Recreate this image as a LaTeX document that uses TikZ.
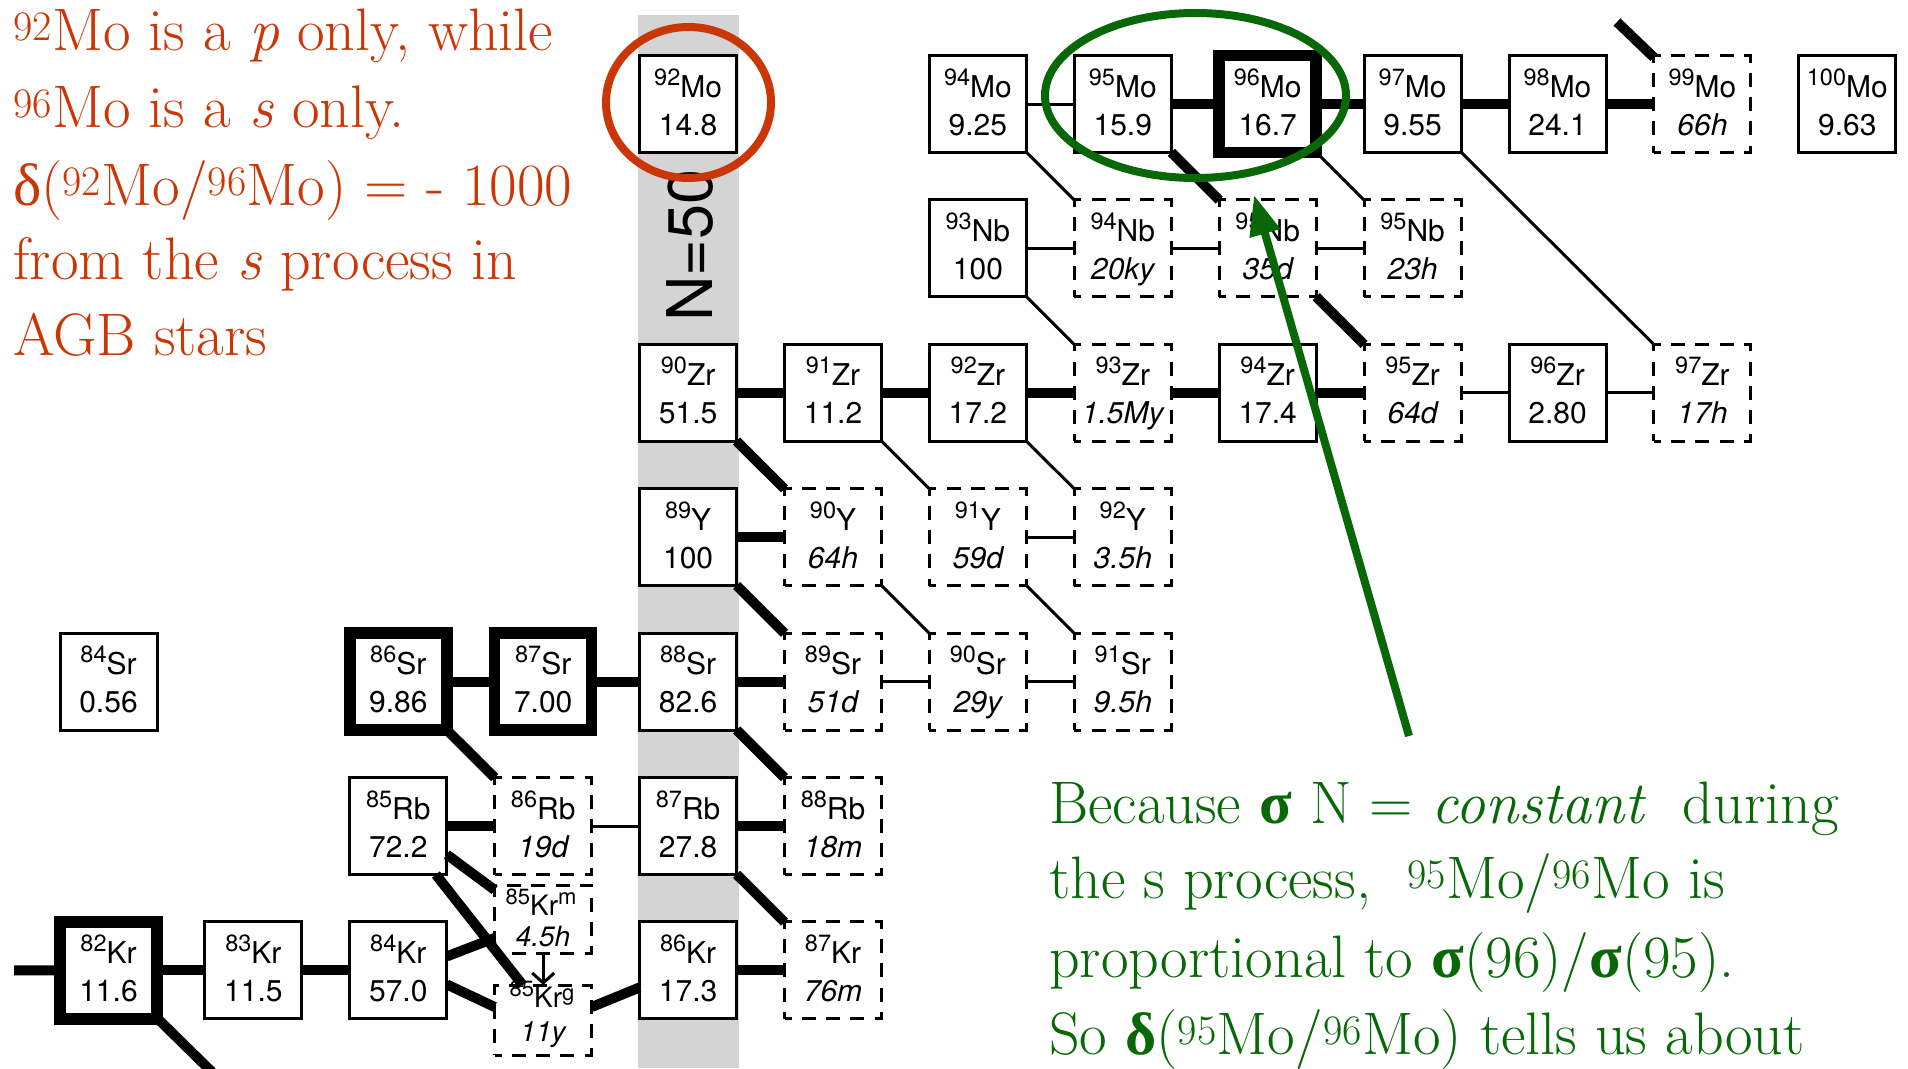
\documentclass[tikz,border=0pt]{standalone}
\usepackage{fontspec}
\usetikzlibrary{calc,arrows.meta}
\newfontfamily\helv{TeX Gyre Heros}
\newfontfamily\grk{Liberation Serif}
\definecolor{slidered}{RGB}{203,54,6}
\definecolor{slidegreen}{RGB}{8,104,8}
\definecolor{bandgray}{RGB}{212,212,212}

% mass number set as a raised superscript in the chart boxes
\newcommand\isomass[1]{\raisebox{12pt}{\fontsize{23.5}{24}\selectfont #1}}
\newcommand\smallmass[1]{\raisebox{11pt}{\fontsize{22}{22}\selectfont #1}}

\tikzset{
  nucbox/.style={draw, fill=white, line width=3pt, minimum width=97pt,
    minimum height=97pt, inner sep=0pt, outer sep=0pt},
  sonly/.style={nucbox, line width=11.5pt},
  unst/.style={nucbox, dash pattern=on 14pt off 10.25pt, dash phase=7pt},
  chartfont/.style={font=\helv\fontsize{30}{30}\selectfont},
  toptext/.style={inner sep=0pt, anchor=base, chartfont},
  valtext/.style={inner sep=0pt, anchor=base, chartfont},
  smalltext/.style={inner sep=0pt, anchor=base, font=\helv\fontsize{28}{28}\selectfont},
  heavy/.style={line width=10pt},
  light/.style={line width=3pt},
  redline/.style={anchor=base west, inner sep=0pt, text=slidered,
    font=\fontsize{60}{77}\selectfont},
  greenline/.style={anchor=base west, inner sep=0pt, text=slidegreen,
    font=\fontsize{60}{77}\selectfont},
}

% one chart cell: name, style, column, row, mass, symbol, value
\newcommand\nuc[7]{%
  \node[#2] (#1) at ({108.5+144.9*#3},{104+144.4*#4}) {};
  \node[toptext] (#1sym) at ($(#1.center)+(0,-7)$) {\isomass{#5}#6};
  \node[valtext] (#1val) at ($(#1.center)+(0,31)$) {#7};
}

\begin{document}
\begin{tikzpicture}[x=1pt, y=-1pt]
\useasboundingbox (0,0) rectangle (1908,1068);

% N = 50 column
\fill[bandgray] (638,15) rectangle (739,1068);

% ---- chart cells ----
% Mo
\nuc{Mo92}{nucbox}{4}{0}{92}{Mo}{14.8}
\nuc{Mo94}{nucbox}{6}{0}{94}{Mo}{9.25}
\nuc{Mo95}{nucbox}{7}{0}{95}{Mo}{15.9}
\nuc{Mo96}{sonly}{8}{0}{96}{Mo}{16.7}
\nuc{Mo97}{nucbox}{9}{0}{97}{Mo}{9.55}
\nuc{Mo98}{nucbox}{10}{0}{98}{Mo}{24.1}
\nuc{Mo99}{unst}{11}{0}{99}{Mo}{\itshape 66h}
\nuc{Mo100}{nucbox}{12}{0}{100}{Mo}{9.63}
% Nb
\nuc{Nb93}{nucbox}{6}{1}{93}{Nb}{100}
\nuc{Nb94}{unst}{7}{1}{94}{Nb}{\itshape 20ky}
\nuc{Nb95}{unst}{8}{1}{95}{Nb}{\itshape 35d}
\nuc{Nb96}{unst}{9}{1}{95}{Nb}{\itshape 23h}
% Zr
\nuc{Zr90}{nucbox}{4}{2}{90}{Zr}{51.5}
\nuc{Zr91}{nucbox}{5}{2}{91}{Zr}{11.2}
\nuc{Zr92}{nucbox}{6}{2}{92}{Zr}{17.2}
\nuc{Zr93}{unst}{7}{2}{93}{Zr}{\itshape 1.5My}
\nuc{Zr94}{nucbox}{8}{2}{94}{Zr}{17.4}
\nuc{Zr95}{unst}{9}{2}{95}{Zr}{\itshape 64d}
\nuc{Zr96}{nucbox}{10}{2}{96}{Zr}{2.80}
\nuc{Zr97}{unst}{11}{2}{97}{Zr}{\itshape 17h}
% Y
\nuc{Y89}{nucbox}{4}{3}{89}{Y}{100}
\nuc{Y90}{unst}{5}{3}{90}{Y}{\itshape 64h}
\nuc{Y91}{unst}{6}{3}{91}{Y}{\itshape 59d}
\nuc{Y92}{unst}{7}{3}{92}{Y}{\itshape 3.5h}
% Sr
\nuc{Sr84}{nucbox}{0}{4}{84}{Sr}{0.56}
\nuc{Sr86}{sonly}{2}{4}{86}{Sr}{9.86}
\nuc{Sr87}{sonly}{3}{4}{87}{Sr}{7.00}
\nuc{Sr88}{nucbox}{4}{4}{88}{Sr}{82.6}
\nuc{Sr89}{unst}{5}{4}{89}{Sr}{\itshape 51d}
\nuc{Sr90}{unst}{6}{4}{90}{Sr}{\itshape 29y}
\nuc{Sr91}{unst}{7}{4}{91}{Sr}{\itshape 9.5h}
% Rb
\nuc{Rb85}{nucbox}{2}{5}{85}{Rb}{72.2}
\nuc{Rb86}{unst}{3}{5}{86}{Rb}{\itshape 19d}
\nuc{Rb87}{nucbox}{4}{5}{87}{Rb}{27.8}
\nuc{Rb88}{unst}{5}{5}{88}{Rb}{\itshape 18m}
% Kr
\nuc{Kr82}{sonly}{0}{6}{82}{Kr}{11.6}
\nuc{Kr83}{nucbox}{1}{6}{83}{Kr}{11.5}
\nuc{Kr84}{nucbox}{2}{6}{84}{Kr}{57.0}
\nuc{Kr86}{nucbox}{4}{6}{86}{Kr}{17.3}
\nuc{Kr87}{unst}{5}{6}{87}{Kr}{\itshape 76m}
% 85Kr isomer and ground state share one cell
\node[unst, minimum height=68pt] (Krm) at (543.2,919) {};
\node[unst, minimum height=70pt] (Krg) at (543.2,1020) {};
\node[smalltext] (Krmsym) at (541,915) {\smallmass{85}Kr\smallmass{m}};
\node[smalltext] (Krmval) at (543,946) {\itshape 4.5h};
\node[smalltext] (Krgsym) at (542,1007) {\smallmass{85}Kr\raisebox{7pt}{\fontsize{22}{22}\selectfont g}};
\node[smalltext] (Krgval) at (543,1041) {\itshape 11y};

% free ends of paths leaving the chart
\coordinate (krin) at (14,970.4);
\coordinate (krout) at (212,1072);
\coordinate (tcout) at (1617,22);

% ---- main s-process path ----
\draw[heavy] (Mo95) -- (Mo96);
\draw[heavy] (Mo96) -- (Mo97);
\draw[heavy] (Mo97) -- (Mo98);
\draw[heavy] (Mo98) -- (Mo99);
\draw[heavy] (tcout) -- (Mo99);
\draw[heavy] (Mo95) -- (Nb95);
\draw[heavy] (Nb95) -- (Zr95);
\draw[heavy] (Zr90) -- (Zr91);
\draw[heavy] (Zr91) -- (Zr92);
\draw[heavy] (Zr92) -- (Zr93);
\draw[heavy] (Zr93) -- (Zr94);
\draw[heavy] (Zr94) -- (Zr95);
\draw[heavy] (Zr90) -- (Y90);
\draw[heavy] (Y89) -- (Y90);
\draw[heavy] (Y89) -- (Sr89);
\draw[heavy] (Sr86) -- (Sr87);
\draw[heavy] (Sr87) -- (Sr88);
\draw[heavy] (Sr88) -- (Sr89);
\draw[heavy] (Sr88) -- (Rb88);
\draw[heavy] (Sr86) -- (Rb86);
\draw[heavy] (Rb85) -- (Rb86);
\draw[heavy] (Rb87) -- (Rb88);
\draw[heavy] (Rb87) -- (Kr87);
\draw[heavy] (krin) -- (Kr82);
\draw[heavy] (Kr82) -- (Kr83);
\draw[heavy] (Kr83) -- (Kr84);
\draw[heavy] (Kr82) -- (krout);
\draw[heavy] (Kr86) -- (Kr87);
\draw[heavy] ($(Rb85.south east)+(0,-20)$) -- ($(Krm.north west)+(0,5)$);
\draw[heavy] ($(Rb85.south east)+(-11,0)$) -- ($(Krg.north west)+(28,0)$);
\draw[heavy] ($(Kr84.east)+(0,-14)$) -- ($(Krm.west)+(0,19)$);
\draw[heavy] ($(Kr84.east)+(0,14)$) -- ($(Krg.west)+(0,-13)$);
\draw[heavy] ($(Krg.east)+(0,-13)$) -- ($(Kr86.west)+(0,17)$);

% ---- weak branches ----
\draw[light] (Mo94) -- (Mo95);
\draw[light] (Mo94) -- (Nb94);
\draw[light] (Mo96) -- (Nb96);
\draw[light] (Mo97) -- (Zr97);
\draw[light] (Nb93) -- (Nb94);
\draw[light] (Nb94) -- (Nb95);
\draw[light] (Nb95) -- (Nb96);
\draw[light] (Nb93) -- (Zr93);
\draw[light] (Zr95) -- (Zr96);
\draw[light] (Zr96) -- (Zr97);
\draw[light] (Zr91) -- (Y91);
\draw[light] (Zr92) -- (Y92);
\draw[light] (Y91) -- (Y92);
\draw[light] (Y90) -- (Sr90);
\draw[light] (Y91) -- (Sr91);
\draw[light] (Sr89) -- (Sr90);
\draw[light] (Sr90) -- (Sr91);
\draw[light] (Rb86) -- (Rb87);
\draw[light, -{Straight Barb[length=10pt, width=22pt]}] (Krm) -- (Krg);

% closed neutron shell label
\node[rotate=90, anchor=base west, inner sep=0pt,
      font=\helv\fontsize{63}{63}\selectfont] (nlabel) at (712,322) {N=50};

% highlights
\draw[slidered, line width=8pt] (688.5,102.5) ellipse [x radius=82.5, y radius=75.5];
\draw[slidegreen, line width=8pt] (1195.5,95.5) ellipse [x radius=150.5, y radius=82.5];

% explanatory text
\node[redline] (r1) at (13,50) {\textsuperscript{92}Mo is a \textit{p} only, while};
\node[redline] (r2) at (13,127) {\textsuperscript{96}Mo is a \textit{s} only.};
\node[redline] (r3) at (13,205) {{\grk δ}(\textsuperscript{92}Mo/\textsuperscript{96}Mo) = - 1000};
\node[redline] (r4) at (13,279) {from the \textit{s} process in};
\node[redline] (r5) at (13,355) {AGB stars};

\node[greenline] (g1) at (1049,823) {Because {\grk\bfseries σ} N = \textit{constant}\ \ during};
\node[greenline] (g2) at (1049,898) {the s process,\ \ \textsuperscript{95}Mo/\textsuperscript{96}Mo is};
\node[greenline] (g3) at (1049,977) {proportional to {\grk\bfseries σ}(96)/{\grk\bfseries σ}(95).};
\node[greenline] (g4) at (1049,1054) {So {\grk\bfseries δ}(\textsuperscript{95}Mo/\textsuperscript{96}Mo) tells us about};

% pointer from the note to the Mo pair
\coordinate (arrowtail) at (1409,736);
\coordinate (arrowtip) at (1254,195);
\draw[slidegreen, line width=8pt, -{Triangle[length=40pt, width=30pt]}] (arrowtail) -- (arrowtip);
\end{tikzpicture}
\end{document}
